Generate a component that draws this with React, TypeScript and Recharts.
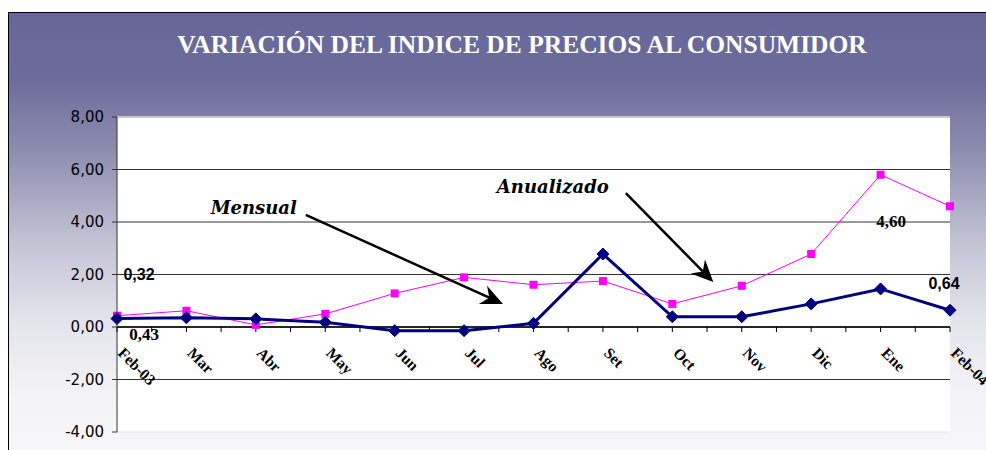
import React from 'react';
import {
  LineChart,
  Line,
  XAxis,
  YAxis,
  CartesianGrid,
  ReferenceLine,
  ReferenceDot,
  LabelList,
} from 'recharts';

const CATEGORIES = ['Feb-03', 'Mar', 'Abr', 'May', 'Jun', 'Jul', 'Ago', 'Set', 'Oct', 'Nov', 'Dic', 'Ene', 'Feb-04'];
const MENSUAL = [0.32, 0.35, 0.31, 0.18, -0.14, -0.14, 0.14, 2.78, 0.39, 0.39, 0.88, 1.45, 0.64];
const ANUALIZADO = [0.43, 0.62, 0.08, 0.5, 1.28, 1.89, 1.61, 1.75, 0.88, 1.57, 2.78, 5.8, 4.6];
const Y_TICKS = [-4, -2, 0, 2, 4, 6, 8];
const MINOR_TICKS = CATEGORIES.slice(1).map((_, i) => i + 0.5);

// callouts, in data units (x = month index, y = value)
const CALLOUTS = [
  { text: 'Mensual', from: { x: 2.72, y: 4.27 }, to: { x: 5.56, y: 0.88 }, dx: -9, dy: -1 },
  { text: 'Anualizado', from: { x: 7.33, y: 5.1 }, to: { x: 8.59, y: 1.71 }, dx: -17, dy: 0 },
];

const data = CATEGORIES.map((name, i) => ({
  i,
  name,
  mensual: MENSUAL[i],
  anualizado: ANUALIZADO[i],
}));

const fmt = (v: number) => v.toFixed(2).replace('.', ',');

const NAVY = '#000080';
const MAGENTA = '#ff00ff';

const Diamond = (props: any) => {
  const { cx, cy } = props;
  if (cx == null || cy == null) return null;
  const r = 6;
  return (
    <polygon
      points={`${cx},${cy - r} ${cx + r},${cy} ${cx},${cy + r} ${cx - r},${cy}`}
      fill={NAVY}
      stroke={NAVY}
    />
  );
};

const Square = (props: any) => {
  const { cx, cy } = props;
  if (cx == null || cy == null) return null;
  return <rect x={cx - 4} y={cy - 4} width={8} height={8} fill={MAGENTA} />;
};

// only first and last points carry a label in the original
const endLabel = (offsets: { [k: number]: [number, number] }, family: string) => (props: any) => {
  const { x, y, value, index } = props;
  const off = offsets[index];
  if (!off) return null;
  return (
    <text
      x={x + off[0]}
      y={y + off[1]}
      textAnchor="middle"
      dominantBaseline="central"
      fontFamily={family}
      fontWeight="bold"
      fontSize={family.includes('Serif') ? 17 : 16}
      fill="#000"
    >
      {fmt(value)}
    </text>
  );
};

const Arrow = ({ text, dx, dy }: { text: string; dx: number; dy: number }) => (props: any) => {
  const { x1, y1, x2, y2 } = props;
  const ang = Math.atan2(y2 - y1, x2 - x1);
  const ux = Math.cos(ang);
  const uy = Math.sin(ang);
  const len = 22;
  const half = 10;
  const notch = 15;
  const bx = x2 - ux * len;
  const by = y2 - uy * len;
  const head = [
    [x2, y2],
    [bx - uy * half, by + ux * half],
    [x2 - ux * notch, y2 - uy * notch],
    [bx + uy * half, by - ux * half],
  ]
    .map((p) => p.join(','))
    .join(' ');
  return (
    <g>
      <line
        x1={x1}
        y1={y1}
        x2={x2 - ux * notch}
        y2={y2 - uy * notch}
        stroke="#000"
        strokeWidth={2.5}
      />
      <polygon points={head} fill="#000" />
      <text
        x={x1 + dx}
        y={y1 + dy}
        textAnchor="end"
        fontFamily="DejaVu Serif"
        fontStyle="italic"
        fontWeight="bold"
        fontSize={18}
        fill="#000"
      >
        {text}
      </text>
    </g>
  );
};

const MonthTick = (label: string) => (props: any) => {
  const { cx, cy } = props;
  return (
    <g>
      <line x1={cx} y1={cy} x2={cx} y2={cy + 5} stroke="#000" strokeWidth={1} />
      <text
        x={cx}
        y={cy + 27}
        transform={`rotate(45 ${cx} ${cy + 27})`}
        textAnchor="start"
        fontFamily="Liberation Serif"
        fontWeight="bold"
        fontSize={15.5}
        fill="#000"
      >
        {label}
      </text>
    </g>
  );
};

const MinorTick = (props: any) => {
  const { cx, cy } = props;
  return <line x1={cx} y1={cy} x2={cx} y2={cy + 5} stroke="#000" strokeWidth={1} />;
};

export default function App() {
  return (
    <div
      style={{
        position: 'fixed',
        top: 12,
        left: 8,
        width: 978,
        height: 438,
        boxSizing: 'border-box',
        borderLeft: '1px solid #000',
        borderTop: '1px solid #000',
        background:
          'linear-gradient(to bottom, #666699 0%, #6c6c9c 15%, #8e8eb0 32%, #c2c2d4 52%, #e3e3ec 70%, #f4f4f7 88%, #f6f6f8 100%)',
      }}
    >
      <div
        style={{
          position: 'absolute',
          top: 19,
          left: 513,
          transform: 'translateX(-50%)',
          whiteSpace: 'nowrap',
          color: '#fff',
          fontFamily: '"Liberation Serif", serif',
          fontWeight: 'bold',
          fontSize: 25.5,
          lineHeight: '25px',
        }}
      >
        VARIACIÓN DEL INDICE DE PRECIOS AL CONSUMIDOR
      </div>
      <LineChart
        width={977}
        height={437}
        data={data}
        margin={{ top: 104, right: 36, bottom: 18, left: 0 }}
      >
        <CartesianGrid
          vertical={false}
          horizontalValues={[-2, 0, 2, 4, 6]}
          stroke="#333"
          fill="#fff"
          fillOpacity={1}
        />
        <XAxis dataKey="i" type="number" domain={[0, 12]} hide />
        <YAxis
          type="number"
          domain={[-4, 8]}
          ticks={Y_TICKS}
          width={108}
          tickFormatter={fmt}
          tickSize={5}
          tickMargin={8}
          axisLine={{ stroke: '#333' }}
          tickLine={{ stroke: '#333' }}
          tick={{ fill: '#000', fontSize: 15, fontFamily: 'DejaVu Sans' }}
          interval={0}
        />
        <ReferenceLine y={8} stroke="#c8c8c8" strokeWidth={2} />
        <ReferenceLine y={-4} stroke="#e6e6e6" strokeWidth={1} />
        <ReferenceLine y={0} stroke="#000" strokeWidth={1.5} />
        {CATEGORIES.map((c, i) => (
          <ReferenceDot key={c} x={i} y={0} r={0} shape={MonthTick(c)} />
        ))}
        {MINOR_TICKS.map((m) => (
          <ReferenceDot key={m} x={m} y={0} r={0} shape={MinorTick} />
        ))}
        <Line
          dataKey="anualizado"
          name="Anualizado"
          stroke={MAGENTA}
          strokeWidth={1}
          dot={<Square />}
          activeDot={false}
          isAnimationActive={false}
        >
          <LabelList
            dataKey="anualizado"
            content={endLabel({ 0: [27, 19], 12: [-59, 15] }, 'Liberation Serif')}
          />
        </Line>
        <Line
          dataKey="mensual"
          name="Mensual"
          stroke={NAVY}
          strokeWidth={3}
          dot={<Diamond />}
          activeDot={false}
          isAnimationActive={false}
        >
          <LabelList
            dataKey="mensual"
            content={endLabel({ 0: [22, -44], 12: [-6, -27] }, 'Liberation Sans')}
          />
        </Line>
        {CALLOUTS.map((c) => (
          <ReferenceLine
            key={c.text}
            segment={[c.from, c.to]}
            stroke="#000"
            shape={Arrow(c)}
          />
        ))}
      </LineChart>
    </div>
  );
}
